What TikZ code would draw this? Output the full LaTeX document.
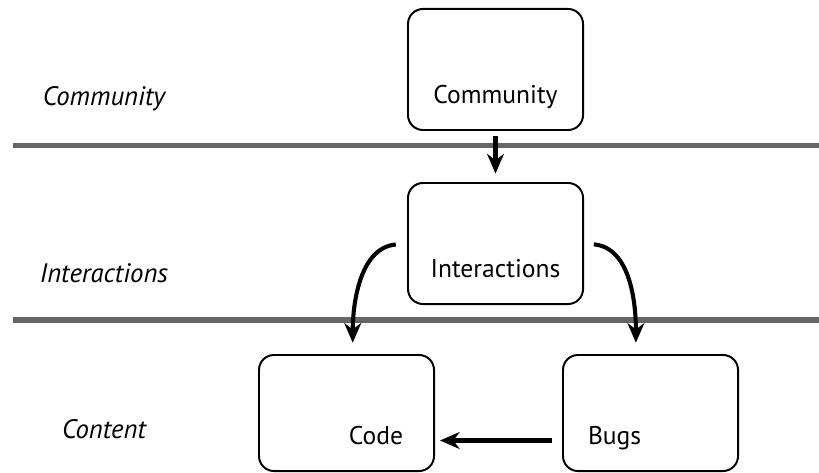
\documentclass[tikz,border=0pt]{standalone}
\usepackage{fontspec}
\setmainfont{PT Sans}
\usetikzlibrary{positioning,calc,arrows.meta}
\newcommand*{\lyr}[1]{\fontsize{19}{22}\selectfont\itshape #1}

\begin{document}
\begin{tikzpicture}[x=0.025cm,y=-0.025cm,
  box/.style={draw,line width=1.4pt,rounded corners=0.375cm,anchor=north west,
    minimum width=4.375cm,inner sep=0pt,text height=2.35cm,text depth=0.675cm,
    font=\fontsize{18.2}{21}\selectfont},
  flow/.style={line width=2.9pt,-{Stealth[length=14pt,width=12pt]}},
  divider/.style={line width=3.6pt,draw=black!60}]
\useasboundingbox (0,0) rectangle (819,472);
% The two layer dividers run from (l1) and (l2) to the right edge
\coordinate (l1) at (13,145.5);
\coordinate (r1) at (819,145.5);
\coordinate (l2) at (13,320);
\coordinate (r2) at (819,320);
\draw [divider] (l1) -- (r1);
\draw [divider] (l2) -- (r2);
% Layer names on the left
\node [anchor=base] (lcomm) at (104,106) {\lyr{Community}};
\node [anchor=base] (linter) at (104,282) {\lyr{Interactions}};
\node [anchor=base] (lcont) at (104,438) {\lyr{Content}};
% Boxes, placed by their upper left corner
\node [box] (comm) at (407,8) {Community};
\node [box] (inter) at (407,182) {Interactions};
\node [box,text height=2.225cm,text width=2.825cm,align=right] (code) at (258,354) {Code};
\node [box,text height=2.225cm,text width=3.125cm,align=left] (bugs) at (562,354) {Bugs};
% Where the curved arrows land on the lower boxes
\coordinate (cin) at ($ (code.north)!.07!(code.north east) $);
\coordinate (bin) at ($ (bugs.north)!.165!(bugs.north west) $);
% Arrows between the boxes
\draw [flow,shorten <=3.5pt,shorten >=6pt] (comm.south) -- (inter.north);
\draw [flow,shorten <=8pt,shorten >=8pt] (inter.west) to[out=185,in=90] (cin);
\draw [flow,shorten <=7pt,shorten >=8pt] (inter.east) to[out=-5,in=90] (bin);
\draw [flow,shorten <=7pt,shorten >=3.5pt] (bugs.mid west) -- (code.mid east);
\end{tikzpicture}
\end{document}
